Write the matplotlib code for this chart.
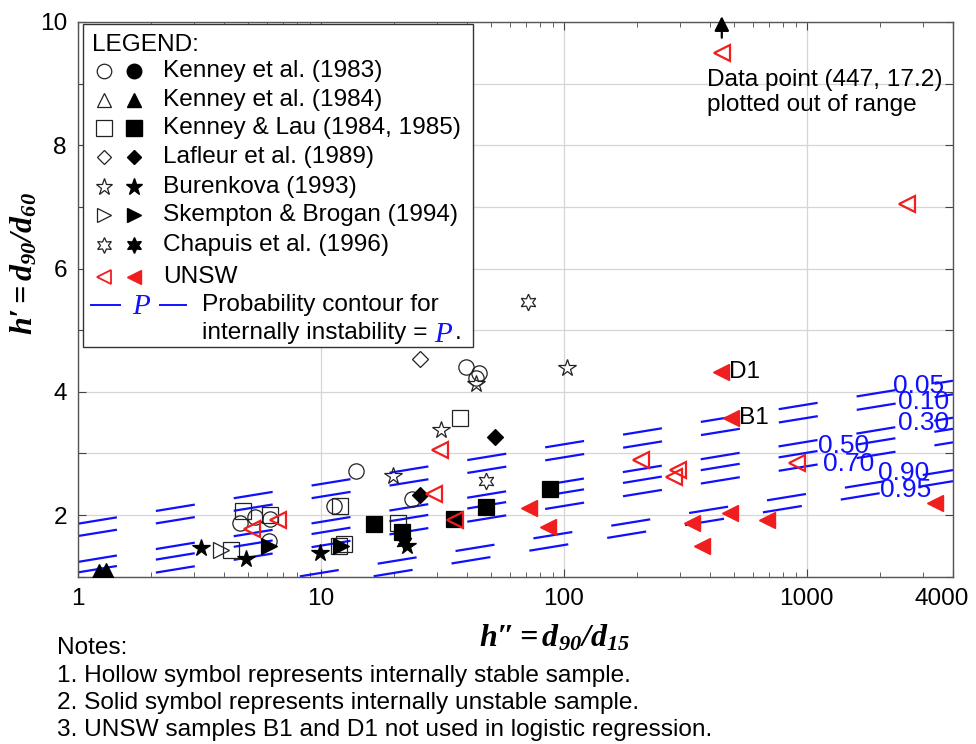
import matplotlib
matplotlib.use('Agg')
import matplotlib.pyplot as plt
import numpy as np
from matplotlib.patches import Rectangle
from matplotlib.lines import Line2D
from matplotlib.ticker import NullFormatter
from matplotlib.transforms import ScaledTranslation

plt.rcParams['font.family'] = ['Liberation Sans', 'DejaVu Sans']
plt.rcParams['mathtext.fontset'] = 'custom'
plt.rcParams['mathtext.rm'] = 'Liberation Serif'
plt.rcParams['mathtext.it'] = 'Liberation Serif:italic'
plt.rcParams['mathtext.bf'] = 'Liberation Serif:bold'
plt.rcParams['mathtext.bfit'] = 'Liberation Serif:italic:bold'
plt.rcParams['lines.scale_dashes'] = False

# ---- data: h'' = d90/d15 (x), h' = d90/d60 (y) ----
# Kenney et al. (1983)
k83_stable_x = [39.5, 44.6, 43.5, 13.9, 11.3, 23.7, 4.63, 5.34, 6.15, 6.11]
k83_stable_y = [4.40, 4.31, 4.22, 2.72, 2.15, 2.26, 1.875, 1.97, 1.93, 1.58]
k83_unstable_x = []
k83_unstable_y = []
# Kenney et al. (1984)
k84_stable_x = []
k84_stable_y = []
k84_unstable_x = [1.22, 1.30]
k84_unstable_y = [1.07, 1.09]
# Kenney & Lau (1984, 1985)
kl_stable_x = [37.5, 12.0, 20.7, 12.5, 11.9, 4.8, 6.15, 4.28]
kl_stable_y = [3.58, 2.15, 1.87, 1.53, 1.49, 2.06, 2.00, 1.44]
kl_unstable_x = [16.5, 21.6, 47.8, 35.4, 87.9]
kl_unstable_y = [1.85, 1.73, 2.13, 1.935, 2.42]
# Lafleur et al. (1989)
laf_stable_x = [25.5]
laf_stable_y = [4.54]
laf_unstable_x = [52.1, 25.5]
laf_unstable_y = [3.27, 2.32]
# Burenkova (1993)
bur_stable_x = [43.5, 31.2, 19.8, 103.5]
bur_stable_y = [4.13, 3.38, 2.63, 4.39]
bur_unstable_x = [3.22, 4.93, 9.94, 22.6]
bur_unstable_y = [1.47, 1.28, 1.39, 1.50]
# Skempton & Brogan (1994)
skb_stable_x = [3.89]
skb_stable_y = [1.43]
skb_unstable_x = [6.11, 12.1]
skb_unstable_y = [1.49, 1.50]
# Chapuis et al. (1996)
cha_stable_x = [47.8, 71.0]
cha_stable_y = [2.55, 5.46]
cha_unstable_x = [22.0]
cha_unstable_y = [1.56]
# UNSW
unsw_stable_x = [447, 2588, 30.8, 29.3, 35.5, 5.22, 6.66, 207, 294, 285, 914]
unsw_stable_y = [17.2, 7.05, 3.05, 2.34, 1.92, 1.78, 1.92, 2.90, 2.73, 2.62, 2.84]
unsw_unstable_x = [442, 486, 71.6, 85.7, 338, 372, 482, 688, 3381]
unsw_unstable_y = [4.32, 3.58, 2.11, 1.81, 1.875, 1.49, 2.04, 1.92, 2.20]
unsw_named = ['D1', 'B1']          # first two unstable UNSW samples
y_cap = 9.5                        # points above the range are drawn here

# probability contours (straight on log-x / linear-y axes)
contour_p = [0.05, 0.10, 0.30, 0.50, 0.70, 0.90, 0.95]
contour_y_at_1 = [1.86, 1.66, 1.24, 1.07, 0.86, 0.42, 0.22]
contour_y_at_4000 = [4.18, 3.96, 3.58, 3.40, 3.18, 2.73, 2.55]
# where the contour labels sit
label_x = [2890, 3030, 3030, 1420, 1490, 2506, 2555]
label_y = [4.09, 3.83, 3.49, 3.12, 2.83, 2.68, 2.40]

studies = [
    ('Kenney et al. (1983)', 'o', 11, k83_stable_x, k83_stable_y, k83_unstable_x, k83_unstable_y),
    ('Kenney et al. (1984)', '^', 11, k84_stable_x, k84_stable_y, k84_unstable_x, k84_unstable_y),
    ('Kenney & Lau (1984, 1985)', 's', 11.5, kl_stable_x, kl_stable_y, kl_unstable_x, kl_unstable_y),
    ('Lafleur et al. (1989)', 'D', 8, laf_stable_x, laf_stable_y, laf_unstable_x, laf_unstable_y),
    ('Burenkova (1993)', '*', 13, bur_stable_x, bur_stable_y, bur_unstable_x, bur_unstable_y),
    ('Skempton & Brogan (1994)', '>', 11, skb_stable_x, skb_stable_y, skb_unstable_x, skb_unstable_y),
    ('Chapuis et al. (1996)', (6, 1, 0), 12, cha_stable_x, cha_stable_y, cha_unstable_x, cha_unstable_y),
]
RED = '#f01e1e'
BLUE = '#1010ff'
FS = 17.6

fig = plt.figure(figsize=(9.76, 7.44), dpi=100)
ax = fig.add_axes([78 / 976, 1 - 576.7 / 744, 875 / 976, 554.7 / 744])
ax.set_xscale('log')
ax.set_xlim(1, 4000)
ax.set_ylim(1, 10)

# contours
for p, y0, y1, lx, ly in zip(contour_p, contour_y_at_1, contour_y_at_4000, label_x, label_y):
    slope = (y1 - y0) / np.log10(4000)
    ys = max(y0, 0.8)
    xs = 10 ** ((ys - y0) / slope)
    ax.plot([xs, 4000], [ys, y1], color=BLUE, lw=1.6, dashes=(28.4, 28.4), zorder=2)
    ax.text(lx, ly, f'{p:.2f}', color=BLUE, fontsize=19, ha='center', va='center', zorder=3)

# data points
for label, mk, ms, sx, sy, ux, uy in studies:
    ax.plot(sx, sy, ls='none', marker=mk, ms=ms, mfc='none', mec='#222222', mew=0.9, zorder=4)
    ax.plot(ux, uy, ls='none', marker=mk, ms=ms, mfc='black', mec='black', mew=0.9, zorder=4)

ax.plot(unsw_stable_x, np.minimum(unsw_stable_y, y_cap), ls='none', marker='<', ms=11,
        mfc='none', mec=RED, mew=1.6, zorder=5)
ax.plot(unsw_unstable_x, unsw_unstable_y, ls='none', marker='<', ms=11,
        mfc=RED, mec=RED, mew=1, zorder=5)
for name, x, y in zip(unsw_named, unsw_unstable_x, unsw_unstable_y):
    ax.annotate(name, (x, y), xytext=(6, 0), textcoords='offset points',
                ha='left', va='center', fontsize=FS, zorder=6)

# out-of-range point marker
i_out = int(np.argmax(unsw_stable_y))
x_out, y_out = unsw_stable_x[i_out], unsw_stable_y[i_out]
ax.annotate('', xy=(x_out, 10.14), xytext=(x_out, 9.7),
            arrowprops=dict(arrowstyle='-|>', color='black', lw=1.6, mutation_scale=22),
            annotation_clip=False)
ax.text(388, 8.86, f'Data point ({x_out:g}, {y_out:g})\nplotted out of range',
        fontsize=FS, ha='left', va='center', linespacing=1.2)

# axes cosmetics
ax.set_xticks([1, 10, 100, 1000, 4000])
ax.set_xticklabels(['1', '10', '100', '1000', '4000'])
ax.xaxis.set_minor_formatter(NullFormatter())
ax.set_yticks(range(1, 11))
ax.set_yticklabels(['' if v % 2 else str(v) for v in range(1, 11)])
ax.tick_params(which='both', direction='in', top=True, right=True, labelsize=FS,
               pad=8, color='#444444')
ax.tick_params(which='major', length=6)
ax.tick_params(which='minor', length=3.5)
last = ax.get_xticklabels()[-1]
last.set_transform(last.get_transform() + ScaledTranslation(-0.11, 0, fig.dpi_scale_trans))
ax.grid(True, which='major', color='#d6d6d6', lw=0.9)
ax.set_axisbelow(True)
for s in ax.spines.values():
    s.set_color('#555555')
    s.set_linewidth(1.0)

fig.text(555 / 976, 1 - 638 / 744, "$\\mathbfit{h\u2033 = d_{90}/d_{15}}$", fontsize=23,
         ha='center', va='center')
fig.text(24 / 976, 1 - 264 / 744, "$\\mathbfit{h\u2032 = d_{90}/d_{60}}$", fontsize=23,
         ha='center', va='center', rotation=90)

# ---- legend box drawn by hand ----
def fpx(px, py):
    return px / 976, 1 - py / 744

box = Rectangle(fpx(83, 347), 390 / 976, 323 / 744, transform=fig.transFigure,
                fc='white', ec='#333333', lw=1.0, zorder=5)
fig.add_artist(box)
fig.text(*fpx(92, 45), 'LEGEND:', fontsize=FS, ha='left', va='center', zorder=6)
row_y = [71, 100, 128.3, 156.7, 186.7, 215, 245, 276.7]
legend_rows = [(s[0], s[1], s[2]) for s in studies] + [('UNSW', '<', 11)]
for (label, mk, ms), ry in zip(legend_rows, row_y):
    col = RED if label == 'UNSW' else '#222222'
    fcol = RED if label == 'UNSW' else 'black'
    fig.add_artist(Line2D([fpx(103.5, ry)[0]], [fpx(103.5, ry)[1]], marker=mk, ms=ms * 0.95,
                          mfc='none', mec=col, mew=1.3 if label == 'UNSW' else 0.9,
                          transform=fig.transFigure, zorder=6))
    fig.add_artist(Line2D([fpx(134, ry)[0]], [fpx(134, ry)[1]], marker=mk, ms=ms * 0.95,
                          mfc=fcol, mec=fcol, transform=fig.transFigure, zorder=6))
    fig.text(*fpx(163, ry), label, fontsize=FS, ha='left', va='center', zorder=6)

for xa, xb in [(91, 120), (160, 186)]:
    fig.add_artist(Line2D([xa / 976, xb / 976], [1 - 305 / 744] * 2, color=BLUE, lw=1.4,
                          transform=fig.transFigure, zorder=6))
fig.text(*fpx(141.5, 306), r'$\mathit{P}$', color=BLUE, fontsize=21, ha='center',
         va='center', zorder=6)
fig.text(*fpx(201.5, 305), 'Probability contour for', fontsize=FS, ha='left',
         va='center', zorder=6)
t2 = fig.text(*fpx(201.5, 333), 'internally instability = ', fontsize=FS, ha='left',
              va='center', zorder=6)
fig.canvas.draw()
r = fig.canvas.get_renderer()
bb = t2.get_window_extent(r)
tp = fig.text(bb.x1 / 976, 1 - 334 / 744, r'$\mathit{P}$', color=BLUE, fontsize=21,
              ha='left', va='center', zorder=6)
bb2 = tp.get_window_extent(r)
fig.text(bb2.x1 / 976 + 0.002, 1 - 333 / 744, '.', fontsize=FS, ha='left', va='center',
         zorder=6)

# ---- notes ----
notes = ['Notes:',
         '1. Hollow symbol represents internally stable sample.',
         '2. Solid symbol represents internally unstable sample.',
         '3. UNSW samples B1 and D1 not used in logistic regression.']
for line, ny in zip(notes, [648, 676, 703, 730]):
    fig.text(*fpx(57, ny), line, fontsize=FS, ha='left', va='center')

fig.savefig('out.png', dpi=100)
